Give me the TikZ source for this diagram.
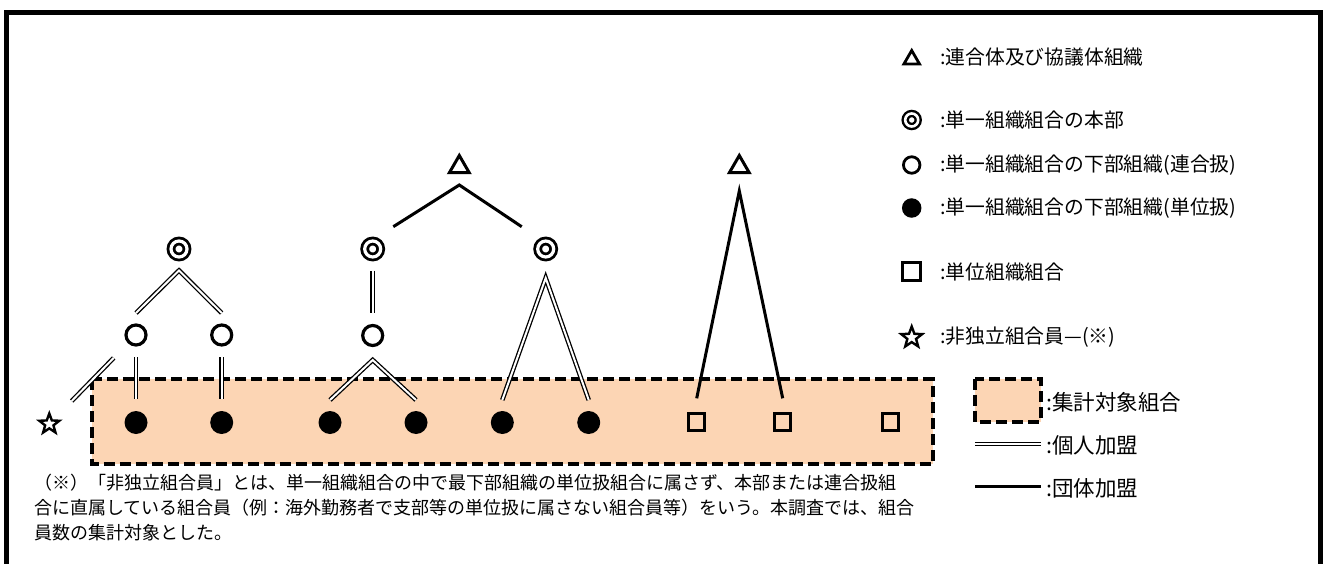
\documentclass[tikz,border=0pt]{standalone}
\usepackage{fontspec}
\setmainfont{Noto Sans CJK JP}
\usepackage{tikz}
\usetikzlibrary{shapes.geometric}
\definecolor{peach}{HTML}{FCD5B4}

\begin{document}
\begin{tikzpicture}[x=1pt, y=-1pt,
  fed/.style={regular polygon, regular polygon sides=3, draw, line width=3pt, minimum size=23pt, inner sep=0pt},
  hq/.style={circle, draw, double, double distance=3.2pt, line width=2.8pt, minimum size=16pt, inner sep=0pt},
  branch/.style={circle, draw, line width=3.2pt, minimum size=20pt, inner sep=0pt},
  unit/.style={circle, fill, minimum size=23pt, inner sep=0pt},
  unitsq/.style={rectangle, draw, line width=3pt, minimum size=16.5pt, inner sep=0pt},
  member/.style={star, star points=5, star point ratio=2.4, draw, line width=2.4pt, minimum size=21pt, inner sep=0pt},
  indline/.style={double, double distance=2pt, line width=1.3pt},
  grpline/.style={line width=3pt},
  target/.style={draw, fill=peach, line width=4pt, dash pattern=on 11pt off 5pt},
  legtext/.style={anchor=west, inner sep=0pt, font=\fontsize{19.8}{24}\selectfont},
]
\useasboundingbox (0,0) rectangle (1327,564);
\clip (0,0) rectangle (1327,564);
\draw[line width=5pt] (6.5,12.5) rectangle (1320.5,600);

% counted unions
\draw[target] (92,379) rectangle (932.5,463.5);

% first union
\node[hq] (hq1) at (179,249) {};
\node[branch] (br1a) at (136,335) {};
\node[branch] (br1b) at (221.7,335) {};
\node[unit] (u1a) at (136,422.5) {};
\node[unit] (u1b) at (221.7,422.5) {};
\node[member] (mem) at (49.3,424) {};

% federation with two unions
\node[fed] (fed1) at (459.3,167) {};
\node[hq] (hq2) at (372.7,249) {};
\node[hq] (hq3) at (545.7,249) {};
\node[branch] (br2) at (372.7,335.5) {};
\node[unit] (u2a) at (330,422.5) {};
\node[unit] (u2b) at (416,422.5) {};
\node[unit] (u3a) at (502.3,422.5) {};
\node[unit] (u3b) at (588.7,422.5) {};

% federation of unit unions
\node[fed] (fed2) at (739.3,167) {};
\node[unitsq] (sq1) at (696.7,422) {};
\node[unitsq] (sq2) at (782.7,422) {};
\node[unitsq] (sq3) at (890.7,422) {};

\draw[indline] ([yshift=22pt]br1a.center) -- ([yshift=-21.5pt]hq1.center) -- ([yshift=22pt]br1b.center);
\draw[indline] ([yshift=-22.3pt]br1a.center) -- ([yshift=23.5pt]u1a.center);
\draw[indline] ([yshift=-22.3pt]br1b.center) -- ([yshift=23.5pt]u1b.center);
\draw[indline, shorten <=32pt, shorten >=32pt] (mem.center) -- (br1a.center);

\draw[grpline] ([xshift=20.6pt,yshift=22.3pt]hq2.center) -- ([yshift=-18pt]fed1.center) -- ([xshift=-24pt,yshift=22.3pt]hq3.center);
\draw[indline] ([yshift=-21.7pt]hq2.center) -- ([yshift=22.2pt]br2.center);
\draw[indline] ([yshift=22.5pt]u2a.center) -- ([yshift=-24.5pt]br2.center) -- ([yshift=22.5pt]u2b.center);
\draw[indline] ([yshift=22.5pt]u3a.center) -- ([yshift=-29pt]hq3.center) -- ([yshift=22.5pt]u3b.center);

\draw[grpline] ([yshift=23.7pt]sq1.center) -- ([yshift=-24pt]fed2.center) -- ([yshift=23.7pt]sq2.center);

% legend
\node[fed, minimum size=18pt, line width=2.8pt] (kfed) at (911.7,59.5) {};
\node[hq, minimum size=13pt, line width=2.4pt, double distance=2.6pt] (khq) at (911.7,120) {};
\node[branch, minimum size=16.5pt, line width=2.8pt] (kbranch) at (911.7,165) {};
\node[unit, minimum size=19.5pt] (kunit) at (911.7,208) {};
\node[unitsq, minimum size=18pt, line width=3.2pt] (kunitsq) at (911.7,271.7) {};
\node[member, minimum size=22pt] (kmem) at (911.7,337.5) {};

\node[legtext] (tfed) at (940,56.7) {:連合体及び協議体組織};
\node[legtext] (thq) at (940,120) {:単一組織組合の本部};
\node[legtext] (tbranch) at (940,165) {:単一組織組合の下部組織(連合扱)};
\node[legtext] (tunit) at (940,208) {:単一組織組合の下部組織(単位扱)};
\node[legtext] (tunitsq) at (940,271.7) {:単位組織組合};
\node[legtext] (tmem) at (940,336.7) {:非独立組合員—(※)};

\draw[target] (975,378.5) rectangle (1040.5,421.5);
\coordinate (kind1) at (975,444);
\coordinate (kind2) at (1040.5,444);
\coordinate (kgrp1) at (975,486);
\coordinate (kgrp2) at (1040.5,486);
\draw[indline] (kind1) -- (kind2);
\draw[grpline] (kgrp1) -- (kgrp2);
\node[legtext, font=\fontsize{21.5}{26}\selectfont] (ttarget) at (1046,402) {:集計対象組合};
\node[legtext, font=\fontsize{21.5}{26}\selectfont] (tind) at (1046,445.5) {:個人加盟};
\node[legtext, font=\fontsize{21.5}{26}\selectfont] (tgrp) at (1046,488) {:団体加盟};

% note
\node[anchor=north west, inner sep=0pt, align=left, font=\fontsize{18}{25}\selectfont] (note) at (34,474)
  {（※）「非独立組合員」とは、単一組織組合の中で最下部組織の単位扱組合に属さず、本部または連合扱組\\
   合に直属している組合員（例：海外勤務者で支部等の単位扱に属さない組合員等）をいう。本調査では、組合\\
   員数の集計対象とした。};
\end{tikzpicture}
\end{document}
